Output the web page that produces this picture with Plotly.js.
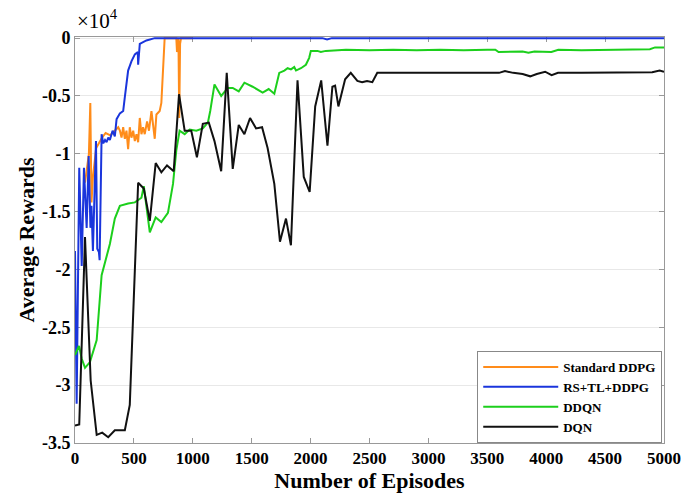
<!DOCTYPE html>
<html>
<head>
<meta charset="utf-8">
<script src="https://cdn.plot.ly/plotly-3.0.1.min.js"></script>
<style>html,body{margin:0;padding:0;background:#fff;}#chart{width:681px;height:494px;}</style>
</head>
<body>
<div id="chart"></div>
<script>
// Values in units of 10^4 (average reward)
const seriesNames = ["Standard DDPG", "RS+TL+DDPG", "DDQN", "DQN"];

const ddpgX = [85, 100, 118, 130, 140, 152, 180, 230, 260, 300, 340, 367, 381, 395, 409, 423, 437, 451, 465, 479, 494, 508, 522, 536, 550, 564, 578, 592, 612, 628, 649, 663, 677, 691, 705, 719, 733, 747, 761, 800, 860, 866, 872, 878, 885, 892, 900, 1000];
const ddpgY = [-1.25, -1.15, -1.0, -0.56, -1.42, -1.2, -0.95, -0.86, -0.82, -0.84, -0.8, -0.77, -0.80, -0.86, -0.77, -0.87, -0.80, -0.96, -0.77, -0.86, -0.80, -0.89, -0.83, -0.90, -0.69, -0.83, -0.77, -0.83, -0.72, -0.80, -0.63, -0.77, -0.87, -0.66, -0.64, -0.63, -0.56, -0.28, 0, 0, 0, -0.12, -0.02, 0, -0.69, -0.05, 0, 0];

const rsX = [0, 14, 36, 57, 76, 99, 116, 131, 140, 152, 178, 189, 203, 209, 226, 240, 255, 268, 282, 296, 310, 319, 338, 353, 381, 409, 423, 451, 479, 508, 522, 533, 536, 545, 550, 606, 677, 1000, 2100, 2140, 2180, 5000];
const rsY = [-1.84, -3.16, -1.12, -1.97, -1.12, -1.64, -1.02, -1.64, -1.45, -1.84, -0.89, -1.82, -1.85, -1.92, -0.83, -0.91, -0.88, -0.90, -0.86, -0.88, -0.83, -0.80, -0.85, -0.70, -0.65, -0.63, -0.51, -0.28, -0.20, -0.14, -0.13, -0.12, -0.23, -0.06, -0.05, -0.02, 0, 0, 0, -0.012, 0, 0];

const ddqnX = [0, 34, 57, 85, 127, 184, 226, 254, 296, 338, 381, 451, 508, 564, 584, 635, 685, 733, 789, 832, 860, 888, 931, 973, 1030, 1085, 1128, 1148, 1184, 1241, 1297, 1339, 1390, 1438, 1508, 1593, 1644, 1692, 1734, 1777, 1805, 1833, 1861, 1876, 1918, 1960, 1988, 2002, 2058, 2087, 2129, 2300, 2500, 2700, 2900, 3100, 3300, 3500, 3568, 3596, 3700, 3800, 3849, 3900, 4044, 4103, 4300, 4500, 4700, 4880, 4924, 5000];
const ddqnY = [-2.74, -2.66, -2.77, -2.85, -2.80, -2.61, -2.05, -1.95, -1.78, -1.56, -1.45, -1.43, -1.42, -1.38, -1.28, -1.68, -1.55, -1.59, -1.51, -1.26, -0.97, -0.80, -0.83, -0.79, -0.80, -0.78, -0.73, -0.63, -0.40, -0.50, -0.43, -0.43, -0.46, -0.385, -0.42, -0.47, -0.44, -0.48, -0.30, -0.28, -0.26, -0.27, -0.25, -0.28, -0.26, -0.23, -0.17, -0.11, -0.11, -0.12, -0.11, -0.10, -0.105, -0.10, -0.105, -0.10, -0.105, -0.10, -0.10, -0.12, -0.12, -0.115, -0.125, -0.115, -0.12, -0.10, -0.105, -0.10, -0.10, -0.095, -0.08, -0.08];

const dqnX = [0, 36, 85, 133, 184, 231, 282, 338, 423, 465, 536, 584, 635, 685, 733, 781, 838, 883, 931, 987, 1035, 1085, 1136, 1184, 1241, 1288, 1339, 1390, 1438, 1486, 1537, 1588, 1635, 1692, 1740, 1791, 1833, 1889, 1942, 1992, 2039, 2090, 2143, 2185, 2208, 2236, 2293, 2341, 2397, 2437, 2479, 2524, 2566, 2800, 3000, 3200, 3400, 3600, 3650, 3720, 3800, 3864, 3920, 3991, 4046, 4100, 4300, 4500, 4700, 4900, 4963, 5000];
const dqnY = [-3.35, -3.34, -1.72, -2.96, -3.43, -3.41, -3.45, -3.39, -3.39, -3.17, -1.25, -1.30, -1.58, -1.08, -1.16, -1.10, -1.15, -0.485, -0.80, -0.80, -1.03, -0.74, -0.73, -0.89, -1.15, -0.30, -1.13, -0.75, -0.83, -0.69, -0.78, -0.77, -0.95, -1.26, -1.76, -1.56, -1.79, -0.365, -1.20, -1.33, -0.59, -0.365, -0.93, -0.42, -0.41, -0.59, -0.356, -0.30, -0.37, -0.38, -0.37, -0.38, -0.30, -0.30, -0.305, -0.30, -0.30, -0.30, -0.285, -0.30, -0.31, -0.33, -0.31, -0.29, -0.32, -0.30, -0.30, -0.30, -0.30, -0.295, -0.28, -0.29];

const xTickVals = [0, 500, 1000, 1500, 2000, 2500, 3000, 3500, 4000, 4500, 5000];
const xTickText = ["0", "500", "1000", "1500", "2000", "2500", "3000", "3500", "4000", "4500", "5000"];
const yTickVals = [0, -0.5, -1, -1.5, -2, -2.5, -3, -3.5];
const yTickText = ["0", "-0.5", "-1", "-1.5", "-2", "-2.5", "-3", "-3.5"];

const serif = "Liberation Serif, Times New Roman, serif";
const bold = arr => arr.map(t => "<b>" + t + "</b>");

const traces = [
  {x: ddpgX, y: ddpgY, name: "<b>" + seriesNames[0] + "</b>", mode: "lines", line: {color: "#ff8c1a", width: 2}},
  {x: rsX, y: rsY, name: "<b>" + seriesNames[1] + "</b>", mode: "lines", line: {color: "#1a35dc", width: 2}},
  {x: ddqnX, y: ddqnY, name: "<b>" + seriesNames[2] + "</b>", mode: "lines", line: {color: "#1ccf1c", width: 2}},
  {x: dqnX, y: dqnY, name: "<b>" + seriesNames[3] + "</b>", mode: "lines", line: {color: "#111111", width: 2}}
];

const layout = {
  width: 681, height: 494,
  margin: {l: 75, r: 17, t: 37, b: 51},
  paper_bgcolor: "#fff", plot_bgcolor: "#fff",
  font: {family: serif, color: "#000"},
  xaxis: {
    range: [0, 5000], tickvals: xTickVals, ticktext: bold(xTickText),
    ticks: "inside", ticklen: 5, tickcolor: "#999", mirror: "ticks",
    showline: true, linecolor: "#999", linewidth: 1, layer: "below traces",
    showgrid: false, zeroline: false, ticklabeloverflow: "allow",
    tickfont: {family: serif, size: 17, color: "#000"},
    title: {text: "<b>Number of Episodes</b>", font: {family: serif, size: 22, color: "#000"}, standoff: 4}
  },
  yaxis: {
    range: [-3.5, 0.01], tickvals: yTickVals, ticktext: bold(yTickText),
    ticks: "inside", ticklen: 5, tickcolor: "#999", mirror: "ticks",
    showline: true, linecolor: "#999", linewidth: 1, layer: "below traces",
    showgrid: true, gridcolor: "#e8e8e8", zeroline: false, ticklabeloverflow: "allow",
    tickfont: {family: serif, size: 18, color: "#000"},
    title: {text: "<b>Average Rewards</b>", font: {family: serif, size: 22, color: "#000"}, standoff: 1}
  },
  legend: {
    x: 0.997, y: 0.0, xanchor: "right", yanchor: "bottom",
    bgcolor: "#fff", bordercolor: "#888", borderwidth: 1,
    font: {family: serif, size: 13, color: "#000"},
    itemwidth: 75, tracegroupgap: 0
  },
  annotations: [{
    text: "×10<sup>4</sup>", xref: "paper", yref: "paper", x: 0, y: 1,
    xanchor: "left", yanchor: "bottom", showarrow: false, yshift: 2,
    font: {family: serif, size: 21, color: "#000"}
  }]
};

Plotly.newPlot("chart", traces, layout, {displayModeBar: false, staticPlot: true});
</script>
</body>
</html>
